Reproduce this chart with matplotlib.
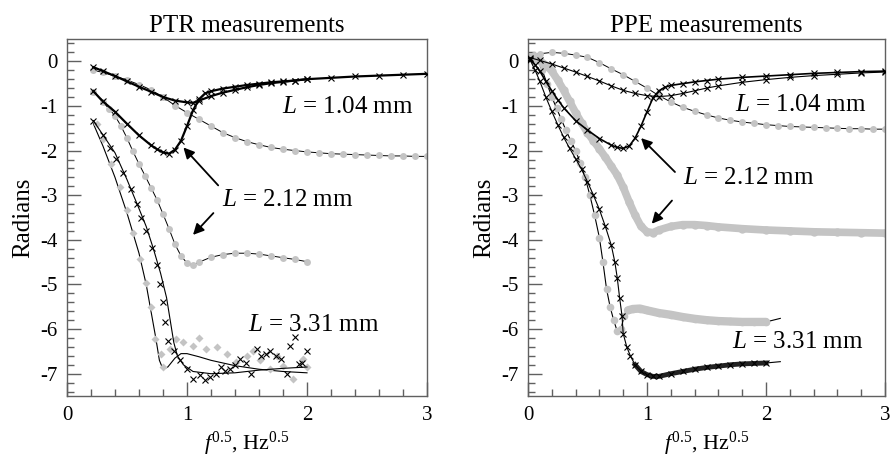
import numpy as np
import matplotlib
matplotlib.use('Agg')
import matplotlib.pyplot as plt
from matplotlib.ticker import MultipleLocator

plt.rcParams['font.family'] = ['Liberation Serif', 'DejaVu Serif']
plt.rcParams['mathtext.fontset'] = 'custom'
plt.rcParams['mathtext.rm'] = 'Liberation Serif'
plt.rcParams['mathtext.it'] = 'Liberation Serif:italic'
plt.rcParams['axes.unicode_minus'] = False

# ---------------- PTR (left panel) ----------------
ptr_104_x_x = [0.22, 0.3, 0.4, 0.5, 0.6, 0.7, 0.8, 0.9, 1.0, 1.05, 1.1, 1.2, 1.3, 1.4,
               1.5, 1.6, 1.7, 1.8, 1.9, 2.0, 2.2, 2.4, 2.6, 2.8, 3.0]
ptr_104_x_y = [-0.13, -0.22, -0.33, -0.45, -0.57, -0.68, -0.8, -0.88, -0.92, -0.93, -0.88,
               -0.78, -0.7, -0.64, -0.58, -0.53, -0.49, -0.46, -0.43, -0.4, -0.37, -0.34,
               -0.32, -0.3, -0.28]
ptr_104_g_x = [0.22, 0.3, 0.4, 0.5, 0.6, 0.7, 0.8, 0.9, 1.0, 1.1, 1.2, 1.3, 1.4, 1.5, 1.6,
               1.7, 1.8, 1.9, 2.0, 2.1, 2.2, 2.3, 2.4, 2.5, 2.6, 2.7, 2.8, 2.9, 3.0]
ptr_104_g_y = [-0.2, -0.25, -0.33, -0.42, -0.52, -0.64, -0.8, -0.99, -1.15, -1.3, -1.45,
               -1.6, -1.71, -1.8, -1.87, -1.93, -1.97, -2.0, -2.03, -2.05, -2.07, -2.08,
               -2.09, -2.1, -2.11, -2.12, -2.12, -2.13, -2.13]

ptr_212_x_x = [0.22, 0.3, 0.4, 0.5, 0.6, 0.7, 0.75, 0.8, 0.85, 0.9, 0.95, 1.0, 1.05, 1.1,
               1.15, 1.2, 1.3, 1.4, 1.5, 1.6, 1.7, 1.8, 1.9, 2.0]
ptr_212_x_y = [-0.67, -0.9, -1.13, -1.4, -1.66, -1.88, -1.97, -2.04, -2.07, -1.98, -1.78,
               -1.45, -1.1, -0.85, -0.72, -0.67, -0.61, -0.57, -0.53, -0.5, -0.47, -0.45,
               -0.43, -0.4]
ptr_212_g_x = [0.22, 0.3, 0.35, 0.4, 0.45, 0.5, 0.55, 0.6, 0.65, 0.7, 0.75, 0.8, 0.85, 0.9,
               0.95, 1.0, 1.05, 1.1, 1.2, 1.3, 1.4, 1.5, 1.6, 1.7, 1.8, 1.9, 2.0]
ptr_212_g_y = [-0.68, -0.92, -1.06, -1.22, -1.45, -1.72, -2.02, -2.3, -2.56, -2.83, -3.1,
               -3.42, -3.75, -4.1, -4.36, -4.52, -4.56, -4.5, -4.39, -4.33, -4.3, -4.3,
               -4.32, -4.36, -4.4, -4.44, -4.49]

ptr_331_x_x = [0.22, 0.3, 0.36, 0.41, 0.47, 0.53, 0.58, 0.62, 0.66, 0.71, 0.75, 0.775, 0.8,
               0.82, 0.84, 0.89, 0.94, 1.0, 1.05, 1.11, 1.15, 1.19, 1.24, 1.28, 1.32, 1.36,
               1.4, 1.44, 1.49, 1.53, 1.58, 1.62, 1.66, 1.69, 1.74, 1.78, 1.83, 1.86, 1.9,
               1.93, 1.96, 2.0]
ptr_331_x_y = [-1.33, -1.65, -1.95, -2.18, -2.5, -2.85, -3.2, -3.5, -3.8, -4.18, -4.56,
               -5.0, -5.4, -5.85, -6.26, -6.49, -6.7, -6.89, -7.11, -7.04, -7.15, -7.07,
               -7.0, -6.84, -6.95, -6.89, -6.8, -6.67, -6.75, -7.0, -6.44, -6.6, -6.55,
               -6.48, -6.6, -6.67, -7.0, -6.37, -6.18, -6.78, -6.75, -6.48]
ptr_331_x_fit_x = [0.22, 0.4, 0.5, 0.6, 0.66, 0.72, 0.78, 0.83, 0.86, 0.89, 0.92, 0.97,
                   1.05, 1.2, 1.4, 1.6, 1.8, 2.0]
ptr_331_x_fit_y = [-1.33, -2.05, -2.65, -3.3, -3.7, -4.2, -4.75, -5.3, -5.8, -6.3, -6.6,
                   -6.8, -6.95, -7.0, -6.98, -6.92, -6.88, -6.85]

ptr_331_g_x = [0.25, 0.3, 0.37, 0.44, 0.5, 0.55, 0.61, 0.66, 0.7, 0.73, 0.78, 0.8, 0.86,
               0.91, 0.97, 1.05, 1.1, 1.16, 1.25, 1.33, 1.41, 1.5, 1.55, 1.61, 1.69, 1.75,
               1.8, 1.88, 1.97, 2.0]
ptr_331_g_y = [-1.4, -1.75, -2.3, -2.81, -3.33, -3.85, -4.44, -4.96, -5.5, -6.22, -6.56,
               -6.85, -6.45, -6.22, -6.3, -6.37, -6.2, -6.44, -6.4, -6.56, -6.74, -6.6,
               -6.5, -6.7, -6.89, -6.6, -6.82, -7.11, -6.67, -6.85]
ptr_331_g_fit_x = [0.22, 0.3, 0.4, 0.5, 0.6, 0.66, 0.7, 0.74, 0.77, 0.8, 0.84, 0.9, 0.95,
                   1.0, 1.1, 1.2, 1.4, 1.6, 1.8, 2.0]
ptr_331_g_fit_y = [-1.4, -1.9, -2.6, -3.4, -4.3, -5.0, -5.6, -6.2, -6.7, -6.9, -6.85,
                   -6.65, -6.55, -6.55, -6.62, -6.7, -6.82, -6.9, -6.95, -6.98]

# ---------------- PPE (right panel) ----------------
ppe_104_x_x = [0.02, 0.1, 0.2, 0.3, 0.4, 0.5, 0.6, 0.7, 0.8, 0.9, 1.0, 1.1, 1.2, 1.3, 1.4,
               1.5, 1.6, 1.8, 2.0, 2.2, 2.4, 2.6, 2.8, 3.0]
ppe_104_x_y = [0.08, 0.02, -0.06, -0.15, -0.24, -0.34, -0.44, -0.55, -0.65, -0.72, -0.77,
               -0.79, -0.77, -0.72, -0.66, -0.6, -0.55, -0.47, -0.41, -0.36, -0.32, -0.29,
               -0.26, -0.24]
ppe_104_g_x = [0.05, 0.1, 0.2, 0.3, 0.4, 0.5, 0.6, 0.7, 0.8, 0.9, 1.0, 1.1, 1.2, 1.3, 1.4,
               1.5, 1.6, 1.7, 1.8, 1.9, 2.0, 2.1, 2.2, 2.3, 2.4, 2.5, 2.6, 2.7, 2.8, 2.9, 3.0]
ppe_104_g_y = [0.15, 0.17, 0.2, 0.18, 0.14, 0.09, -0.03, -0.17, -0.3, -0.45, -0.6, -0.77,
               -0.91, -1.03, -1.12, -1.2, -1.27, -1.32, -1.36, -1.39, -1.42, -1.44, -1.46,
               -1.47, -1.48, -1.49, -1.5, -1.51, -1.51, -1.52, -1.52]

ppe_212_x_x = [0.02, 0.06, 0.1, 0.15, 0.2, 0.25, 0.3, 0.4, 0.5, 0.6, 0.7, 0.75, 0.8, 0.85,
               0.9, 0.95, 1.0, 1.05, 1.1, 1.15, 1.2, 1.3, 1.4, 1.5, 1.6, 1.8, 2.0, 2.2, 2.4,
               2.6, 2.8, 3.0]
ppe_212_x_y = [0.05, -0.08, -0.22, -0.45, -0.66, -0.86, -1.04, -1.33, -1.54, -1.73, -1.88,
               -1.93, -1.95, -1.9, -1.72, -1.45, -1.13, -0.82, -0.66, -0.58, -0.54, -0.5,
               -0.46, -0.43, -0.4, -0.36, -0.33, -0.3, -0.27, -0.25, -0.23, -0.22]
ppe_212_g_x = [0.02, 0.08, 0.12, 0.16, 0.2, 0.25, 0.3, 0.35, 0.4, 0.45, 0.5, 0.55, 0.6,
               0.65, 0.7, 0.75, 0.8, 0.85, 0.9, 0.95, 1.0, 1.05, 1.1, 1.2, 1.3, 1.4, 1.5,
               1.6, 1.8, 2.0, 2.2, 2.4, 2.6, 2.8, 3.0]
ppe_212_g_y = [0.1, 0.05, -0.03, -0.1, -0.22, -0.42, -0.65, -0.9, -1.15, -1.38, -1.6,
               -1.78, -1.96, -2.15, -2.35, -2.55, -2.82, -3.15, -3.45, -3.7, -3.82, -3.84,
               -3.78, -3.7, -3.66, -3.66, -3.68, -3.71, -3.75, -3.78, -3.8, -3.82, -3.83,
               -3.84, -3.85]

ppe_331_x_x = [0.02, 0.06, 0.1, 0.15, 0.2, 0.25, 0.3, 0.35, 0.4, 0.45, 0.5, 0.55, 0.6,
               0.65, 0.7, 0.73, 0.75, 0.77, 0.79, 0.8, 0.83, 0.86, 0.9, 0.95, 1.0, 1.05,
               1.1, 1.2, 1.3, 1.4, 1.5, 1.6, 1.7, 1.8, 1.9, 2.0]
ppe_331_x_y = [0.02, -0.2, -0.45, -0.8, -1.12, -1.42, -1.7, -1.95, -2.18, -2.42, -2.7,
               -3.0, -3.32, -3.7, -4.12, -4.5, -4.85, -5.3, -5.7, -6.1, -6.4, -6.6, -6.8,
               -6.95, -7.02, -7.06, -7.06, -7.0, -6.95, -6.9, -6.86, -6.83, -6.8, -6.78,
               -6.77, -6.76]
ppe_331_g_x = [0.04, 0.08, 0.12, 0.16, 0.2, 0.24, 0.28, 0.32, 0.36, 0.4, 0.44, 0.48, 0.52,
               0.56, 0.6, 0.63, 0.66, 0.69, 0.72, 0.75, 0.78, 0.81, 0.84, 0.88, 0.94, 1.0,
               1.1, 1.2, 1.3, 1.4, 1.5, 1.6, 1.7, 1.8, 1.9, 2.0]
ppe_331_g_y = [0.12, 0.02, -0.2, -0.5, -0.8, -1.05, -1.3, -1.55, -1.78, -2.0, -2.28, -2.6,
               -3.0, -3.45, -3.95, -4.5, -5.1, -5.5, -5.8, -6.05, -6.0, -5.7, -5.58, -5.55,
               -5.54, -5.58, -5.64, -5.68, -5.73, -5.77, -5.8, -5.82, -5.83, -5.84, -5.84,
               -5.84]
ppe_fit_end_x = [2.12]
ppe_331_x_fit_end_y = [-6.73]
ppe_331_g_fit_end_y = [-5.76]

labels = ['$L$ = 1.04 mm', '$L$ = 2.12 mm', '$L$ = 3.31 mm']
titles = ['PTR measurements', 'PPE measurements']

GRAY = '#c4c4c4'
SPINE = '#606060'


def crosses(ax, x, y, fit=True, lw=0.8):
    if fit:
        ax.plot(x, y, color='black', lw=lw, zorder=3)
    ax.plot(x, y, ls='none', marker='x', ms=4.5, mew=0.8, color='black', zorder=4)


def dots(ax, x, y, fit=True, marker='o', ms=5, thick=False):
    if fit:
        ax.plot(x, y, color='black', lw=0.7, zorder=2)
    if thick:
        ax.plot(x, y, color=GRAY, lw=5.5, solid_capstyle='round', zorder=2.5)
    ax.plot(x, y, ls='none', marker=marker, ms=ms, mec='none', color=GRAY, zorder=2.5)


fig = plt.figure(figsize=(8.92, 4.70), dpi=100)
ax1 = fig.add_axes([0.0751, 0.1574, 0.4036, 0.7596])
ax2 = fig.add_axes([0.5919, 0.1574, 0.4003, 0.7596])

# left panel
dots(ax1, ptr_104_g_x, ptr_104_g_y)
crosses(ax1, ptr_104_x_x, ptr_104_x_y, lw=1.6)
dots(ax1, ptr_212_g_x, ptr_212_g_y)
crosses(ax1, ptr_212_x_x, ptr_212_x_y, lw=1.6)
ax1.plot(ptr_331_g_fit_x, ptr_331_g_fit_y, color='black', lw=0.8, zorder=2)
dots(ax1, ptr_331_g_x, ptr_331_g_y, fit=False, marker='D', ms=3.8)
ax1.plot(ptr_331_x_fit_x, ptr_331_x_fit_y, color='black', lw=0.8, zorder=3)
crosses(ax1, ptr_331_x_x, ptr_331_x_y, fit=False)

# right panel
dots(ax2, ppe_104_g_x, ppe_104_g_y)
crosses(ax2, ppe_104_x_x, ppe_104_x_y)
dots(ax2, ppe_212_g_x, ppe_212_g_y, thick=True, ms=6)
crosses(ax2, ppe_212_x_x, ppe_212_x_y, lw=1.2)
ax2.plot(ppe_331_g_x + ppe_fit_end_x, ppe_331_g_y + ppe_331_g_fit_end_y,
         color='black', lw=0.8, zorder=2)
g331x = np.array(ppe_331_g_x)
g331y = np.array(ppe_331_g_y)
plat = g331x >= 0.84
ax2.plot(g331x[plat], g331y[plat], color=GRAY, lw=6, solid_capstyle='round', zorder=2.5)
dots(ax2, ppe_331_g_x, ppe_331_g_y, fit=False, ms=5.5)
ax2.plot(ppe_331_x_x + ppe_fit_end_x, ppe_331_x_y + ppe_331_x_fit_end_y,
         color='black', lw=0.8, zorder=3)
x331x = np.array(ppe_331_x_x)
x331y = np.array(ppe_331_x_y)
band = x331x >= 0.9
ax2.plot(x331x[band], x331y[band], color='#222222', lw=3.5, zorder=3)
crosses(ax2, ppe_331_x_x, ppe_331_x_y, fit=False)

# annotations
txt_kw = dict(fontsize=18, va='center', ha='left')
ax1.text(1.79, -1.03, labels[0], **txt_kw)
ax1.text(1.29, -3.1, labels[1], **txt_kw)
ax1.text(1.51, -5.9, labels[2], **txt_kw)
ax2.text(1.74, -0.98, labels[0], **txt_kw)
ax2.text(1.30, -2.62, labels[1], **txt_kw)
ax2.text(1.71, -6.3, labels[2], **txt_kw)

arr = dict(arrowstyle='-|>', color='black', lw=1.3, mutation_scale=16, shrinkA=0, shrinkB=0)
ax1.annotate('', xy=(0.97, -1.93), xytext=(1.26, -2.78), arrowprops=arr)
ax1.annotate('', xy=(1.05, -3.89), xytext=(1.22, -3.4), arrowprops=arr)
ax2.annotate('', xy=(0.95, -1.72), xytext=(1.235, -2.48), arrowprops=arr)
ax2.annotate('', xy=(1.04, -3.64), xytext=(1.21, -3.12), arrowprops=arr)

for ax, title in zip([ax1, ax2], titles):
    ax.set_xlim(0, 3)
    ax.set_ylim(-7.5, 0.5)
    ax.xaxis.set_major_locator(MultipleLocator(1))
    ax.xaxis.set_minor_locator(MultipleLocator(0.2))
    ax.yaxis.set_major_locator(MultipleLocator(1))
    ax.yaxis.set_minor_locator(MultipleLocator(0.2))
    ax.tick_params(which='both', direction='in', top=False, right=False,
                   color=SPINE, labelsize=15, pad=7)
    ax.tick_params(which='major', length=10, width=1)
    ax.tick_params(which='minor', length=5, width=1)
    for s in ax.spines.values():
        s.set_color(SPINE)
        s.set_linewidth(1)
    ax.set_title(title, fontsize=18, pad=5)
    ax.set_ylabel('Radians', fontsize=18, labelpad=4)
    ax.set_xlabel('$f^{0.5}$, Hz$^{0.5}$', fontsize=16, labelpad=4)

fig.savefig('out.png', dpi=100)
